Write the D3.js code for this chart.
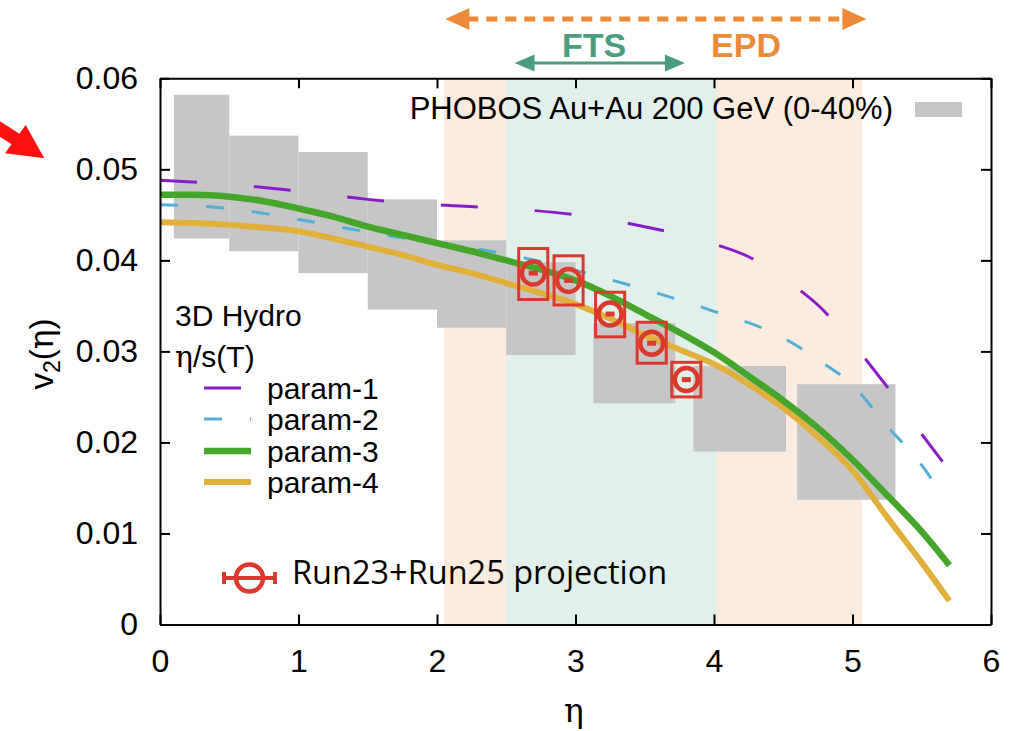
<!DOCTYPE html>
<html><head><meta charset="utf-8">
<script src="https://cdn.jsdelivr.net/npm/d3@7"></script>
<style>body{margin:0;background:#fff} svg{display:block}</style>
</head><body>
<svg id="c" width="1026" height="731"></svg>
<script>
// ---------------- data ----------------
const xTicks = [0, 1, 2, 3, 4, 5, 6];
const yTicks = [0, 0.01, 0.02, 0.03, 0.04, 0.05, 0.06];
const yTickLabels = ["0", "0.01", "0.02", "0.03", "0.04", "0.05", "0.06"];

// detector acceptance bands (eta ranges)
const epdBand = [2.05, 5.07];
const ftsBand = [2.5, 4.02];
const epdArrow = [2.06, 5.10];
const ftsArrow = [2.56, 3.79];

// PHOBOS Au+Au 200 GeV (0-40%) boxes
const phobosEtaLo = [0.10, 0.50, 1.00, 1.50, 2.00, 2.50, 3.13, 3.85, 4.60];
const phobosEtaHi = [0.50, 1.00, 1.50, 2.00, 2.50, 3.00, 3.72, 4.52, 5.31];
const phobosTop   = [0.0582, 0.0537, 0.0519, 0.0467, 0.0422, 0.0398, 0.0331, 0.0284, 0.0264];
const phobosBot   = [0.0424, 0.0410, 0.0386, 0.0346, 0.0326, 0.0296, 0.0243, 0.0190, 0.0137];

// 3D hydro curves
const p1Eta = [0, 0.5, 1.0, 1.5, 2.0, 2.5, 3.0, 3.5, 4.0, 4.25, 4.5, 4.75, 5.0, 5.25, 5.5, 5.65];
const p1V   = [0.0488, 0.04835, 0.0476, 0.0467, 0.0461, 0.0457, 0.0450, 0.0437, 0.0418, 0.0404, 0.0380, 0.0351, 0.0309, 0.0261, 0.0209, 0.0179];
const p2Eta = [0, 0.5, 1.0, 1.5, 2.0, 2.5, 3.0, 3.5, 4.0, 4.5, 4.75, 5.0, 5.25, 5.5, 5.64];
const p2V   = [0.0461, 0.0457, 0.0445, 0.0431, 0.0419, 0.0407, 0.0389, 0.0368, 0.0344, 0.0315, 0.0291, 0.0263, 0.0218, 0.0175, 0.0144];
const p34Eta = [0, 0.25, 0.5, 0.75, 1.0, 1.25, 1.5, 1.75, 2.0, 2.25, 2.5, 2.75, 3.0, 3.25, 3.5, 3.75, 4.0, 4.25, 4.5, 4.75, 5.0, 5.25, 5.5, 5.7];
const p3V   = [0.0472, 0.0472, 0.0470, 0.0465, 0.0457, 0.0448, 0.0437, 0.0428, 0.0419, 0.0410, 0.0400, 0.0390, 0.0378, 0.0361, 0.0341, 0.0321, 0.0299, 0.0273, 0.0246, 0.0216, 0.0181, 0.0142, 0.0102, 0.0065];
const p4V   = [0.0442, 0.0441, 0.0439, 0.0436, 0.0432, 0.0424, 0.0415, 0.0406, 0.0395, 0.0386, 0.0375, 0.0364, 0.0352, 0.0336, 0.0318, 0.0302, 0.0286, 0.0264, 0.0238, 0.0206, 0.0169, 0.0118, 0.0068, 0.0026];

// Run23+Run25 projection
const projEta  = [2.695, 2.95, 3.25, 3.55, 3.80];
const projV    = [0.0386, 0.0378, 0.0341, 0.0309, 0.0269];
const projSysHi = [0.0413, 0.0405, 0.0365, 0.0332, 0.0288];
const projSysLo = [0.0357, 0.0351, 0.0316, 0.0287, 0.0250];
const projEtaHalfWidth = 0.105;

const seriesNames = ["param-1", "param-2", "param-3", "param-4"];

// ---------------- drawing ----------------
const svg = d3.select("#c");
const x = d3.scaleLinear().domain([0, 6]).range([160, 991]);
const y = d3.scaleLinear().domain([0, 0.06]).range([624.5, 78.3]);

const SANS = "'Liberation Sans', Arial, Helvetica, sans-serif";
const SERIF = "'DejaVu Serif', 'Liberation Serif', serif";
const colors = {p1: "#8a1cc8", p2: "#52afd8", p3: "#46a62c", p4: "#e0b03a",
  red: "#d93a2b", gray: "#c6c6c6", epd: "#fbecdf", fts: "#e2f0eb",
  epdText: "#ec8a38", ftsText: "#4a9e7c"};

// bands
svg.append("rect").attr("x", x(epdBand[0])).attr("width", x(epdBand[1]) - x(epdBand[0]))
  .attr("y", y(0.06)).attr("height", y(0) - y(0.06)).attr("fill", colors.epd);
svg.append("rect").attr("x", x(ftsBand[0])).attr("width", x(ftsBand[1]) - x(ftsBand[0]))
  .attr("y", y(0.06)).attr("height", y(0) - y(0.06)).attr("fill", colors.fts);

// PHOBOS boxes
svg.append("g").selectAll("rect").data(phobosEtaLo).join("rect")
  .attr("x", (d, i) => x(phobosEtaLo[i]))
  .attr("width", (d, i) => x(phobosEtaHi[i]) - x(phobosEtaLo[i]))
  .attr("y", (d, i) => y(phobosTop[i]))
  .attr("height", (d, i) => y(phobosBot[i]) - y(phobosTop[i]))
  .attr("fill", colors.gray);

// curves
const line = d3.line().x(d => x(d[0])).y(d => y(d[1])).curve(d3.curveMonotoneX);
const zip = (a, b) => a.map((v, i) => [v, b[i]]);
svg.append("path").attr("d", line(zip(p2Eta, p2V))).attr("fill", "none")
  .attr("stroke", colors.p2).attr("stroke-width", 3).attr("stroke-dasharray", "18,28");
svg.append("path").attr("d", line(zip(p1Eta, p1V))).attr("fill", "none")
  .attr("stroke", colors.p1).attr("stroke-width", 3).attr("stroke-dasharray", "37,57");
svg.append("path").attr("d", line(zip(p34Eta, p4V))).attr("fill", "none")
  .attr("stroke", colors.p4).attr("stroke-width", 6);
svg.append("path").attr("d", line(zip(p34Eta, p3V))).attr("fill", "none")
  .attr("stroke", colors.p3).attr("stroke-width", 6.5);

// projection points
const pg = svg.append("g");
projEta.forEach((e, i) => {
  pg.append("rect").attr("x", x(e - projEtaHalfWidth)).attr("width", x(e + projEtaHalfWidth) - x(e - projEtaHalfWidth))
    .attr("y", y(projSysHi[i])).attr("height", y(projSysLo[i]) - y(projSysHi[i]))
    .attr("fill", "none").attr("stroke", colors.red).attr("stroke-width", 3);
  pg.append("circle").attr("cx", x(e)).attr("cy", y(projV[i])).attr("r", 11.5)
    .attr("fill", "none").attr("stroke", colors.red).attr("stroke-width", 4.5);
  pg.append("line").attr("x1", x(e) - 4.5).attr("x2", x(e) + 4.5)
    .attr("y1", y(projV[i])).attr("y2", y(projV[i]))
    .attr("stroke", colors.red).attr("stroke-width", 5);
});

// axes
function styleAxis(g) {
  g.select(".domain").attr("stroke", "#000").attr("stroke-width", 2);
  g.selectAll(".tick line").attr("stroke", "#000").attr("stroke-width", 2);
  g.selectAll("text").attr("font-family", SANS).attr("font-size", 32).attr("fill", "#000");
}
svg.append("g").attr("transform", `translate(0,${y(0)})`)
  .call(d3.axisBottom(x).tickValues(xTicks).tickSize(-10).tickSizeOuter(0).tickPadding(25).tickFormat(d3.format("d")))
  .call(styleAxis);
svg.append("g").attr("transform", `translate(0,${y(0.06)})`)
  .call(d3.axisTop(x).tickValues(xTicks).tickSize(-10).tickSizeOuter(0).tickFormat(""))
  .call(styleAxis);
svg.append("g").attr("transform", `translate(${x(0)},0)`)
  .call(d3.axisLeft(y).tickValues(yTicks).tickSize(-10).tickSizeOuter(0).tickPadding(22)
    .tickFormat((d, i) => yTickLabels[i]))
  .call(styleAxis);
svg.append("g").attr("transform", `translate(${x(6)},0)`)
  .call(d3.axisRight(y).tickValues(yTicks).tickSize(-10).tickSizeOuter(0).tickFormat(""))
  .call(styleAxis);

// axis titles
svg.append("text").attr("x", 574).attr("y", 722).attr("text-anchor", "middle")
  .attr("font-family", SERIF).attr("font-size", 33).text("η");
const yl = svg.append("text").attr("transform", "translate(53,354) rotate(-90)")
  .attr("text-anchor", "middle").attr("font-family", SANS).attr("font-size", 33);
yl.append("tspan").text("v");
yl.append("tspan").attr("font-size", 23).attr("dy", 7).text("2");
yl.append("tspan").attr("dy", -7).text("(");
yl.append("tspan").attr("font-family", SERIF).text("η");
yl.append("tspan").text(")");

// PHOBOS legend
svg.append("text").attr("x", 893).attr("y", 119).attr("text-anchor", "end")
  .attr("font-family", SANS).attr("font-size", 31).text("PHOBOS Au+Au 200 GeV (0-40%)");
svg.append("rect").attr("x", 915).attr("y", 102).attr("width", 47).attr("height", 15).attr("fill", colors.gray);

// hydro legend
svg.append("text").attr("x", 175).attr("y", 326).attr("font-family", SANS).attr("font-size", 30).text("3D Hydro");
const et = svg.append("text").attr("x", 175).attr("y", 367).attr("font-family", SANS).attr("font-size", 30);
et.append("tspan").attr("font-family", SERIF).text("η");
et.append("tspan").text("/s(T)");
const legY = [388, 419, 451, 482];
const legStyles = [
  {c: colors.p1, w: 3, d: "37,57"}, {c: colors.p2, w: 3, d: "18,28"},
  {c: colors.p3, w: 6.5, d: null}, {c: colors.p4, w: 6, d: null}];
seriesNames.forEach((n, i) => {
  svg.append("line").attr("x1", 204).attr("x2", 251).attr("y1", legY[i]).attr("y2", legY[i])
    .attr("stroke", legStyles[i].c).attr("stroke-width", legStyles[i].w)
    .attr("stroke-dasharray", legStyles[i].d);
  svg.append("text").attr("x", 267).attr("y", legY[i] + 10.5).attr("font-family", SANS)
    .attr("font-size", 30).text(n);
});

// projection legend
svg.append("line").attr("x1", 224).attr("x2", 275).attr("y1", 578).attr("y2", 578)
  .attr("stroke", colors.red).attr("stroke-width", 4);
[224, 275].forEach(px => svg.append("line").attr("x1", px).attr("x2", px).attr("y1", 572).attr("y2", 584)
  .attr("stroke", colors.red).attr("stroke-width", 4));
svg.append("circle").attr("cx", 249.5).attr("cy", 578).attr("r", 13.5).attr("fill", "none")
  .attr("stroke", colors.red).attr("stroke-width", 4.5);
svg.append("text").attr("x", 292).attr("y", 584).attr("font-family", "'Open Sans', sans-serif")
  .attr("font-size", 32.5).text("Run23+Run25 projection");

// detector arrows above plot
function arrow(x1, x2, yy, color, width, dash, hl, hh) {
  svg.append("line").attr("x1", x1 + hl - 2).attr("x2", x2 - hl + 2).attr("y1", yy).attr("y2", yy)
    .attr("stroke", color).attr("stroke-width", width).attr("stroke-dasharray", dash);
  svg.append("path").attr("d", `M${x1},${yy} L${x1 + hl},${yy - hh / 2} L${x1 + hl},${yy + hh / 2} Z`).attr("fill", color);
  svg.append("path").attr("d", `M${x2},${yy} L${x2 - hl},${yy - hh / 2} L${x2 - hl},${yy + hh / 2} Z`).attr("fill", color);
}
arrow(x(epdArrow[0]), x(epdArrow[1]), 19, colors.epdText, 5, "11,8", 24, 22);
arrow(x(ftsArrow[0]), x(ftsArrow[1]), 63, colors.ftsText, 3, null, 20, 17);
svg.append("text").attr("x", 594).attr("y", 57).attr("text-anchor", "middle")
  .attr("font-family", SANS).attr("font-weight", "bold").attr("font-size", 34)
  .attr("fill", colors.ftsText).text("FTS");
svg.append("text").attr("x", 746).attr("y", 57).attr("text-anchor", "middle")
  .attr("font-family", SANS).attr("font-weight", "bold").attr("font-size", 34)
  .attr("fill", colors.epdText).text("EPD");

// red annotation arrow
svg.append("line").attr("x1", -6).attr("y1", 125).attr("x2", 17).attr("y2", 140)
  .attr("stroke", "#ff1111").attr("stroke-width", 13);
svg.append("path").attr("d", "M25.7,125 L44.3,158.3 L5,153.3 Z").attr("fill", "#ff1111");
</script>
</body></html>
